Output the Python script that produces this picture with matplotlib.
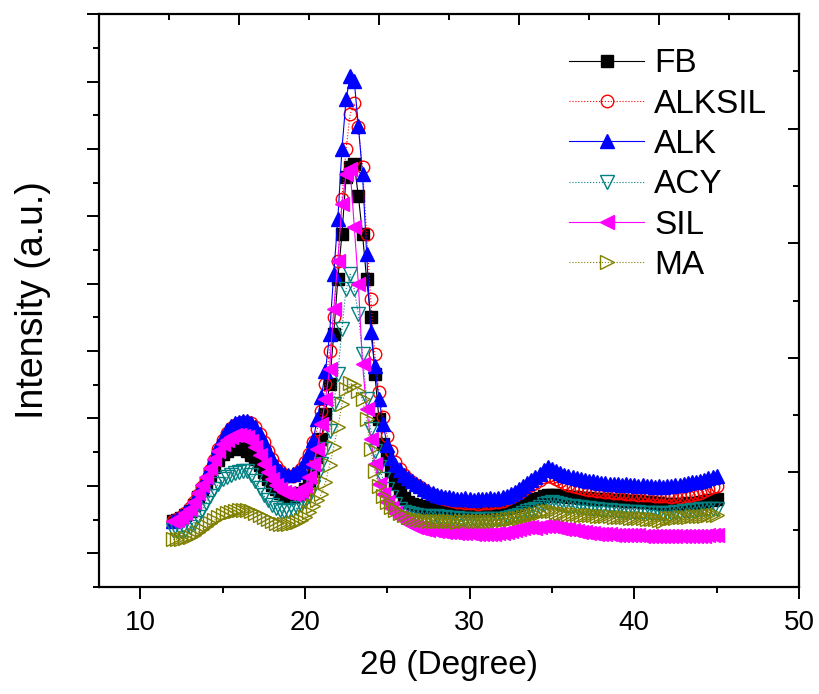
import numpy as np
import matplotlib
matplotlib.use("Agg")
import matplotlib.pyplot as plt
from matplotlib.ticker import MultipleLocator

plt.rcParams['font.family'] = ['Liberation Sans', 'DejaVu Sans']

# 2-theta grid (degrees), 12 -> 45 every 0.25
two_theta = np.arange(12, 45.001, 0.25)

# intensities (a.u.), one row per degree
fb = [32, 33, 35, 38, 42, 48, 56, 63, 70, 78, 86, 93, 99, 102, 104, 105,
      105, 104, 102, 98, 94, 88, 81, 74, 68, 64, 60, 58, 57, 57, 58, 60,
      64, 72, 82, 96, 114, 139, 169, 219, 274, 319, 376, 386, 389, 357, 319, 274,
      236, 179, 134, 109, 94, 82, 70, 62, 55, 51, 49, 48, 47, 46, 45, 45,
      45, 44, 44, 44, 44, 43, 43, 43, 43, 42, 43, 43, 43, 43, 43, 44,
      44, 45, 46, 47, 48, 50, 52, 53, 54, 55, 57, 58, 58, 58, 57, 57,
      56, 56, 56, 55, 55, 55, 54, 54, 54, 54, 53, 53, 53, 53, 52, 52,
      52, 52, 51, 51, 51, 50, 50, 49, 49, 49, 49, 49, 49, 50, 50, 50,
      51, 52, 53, 53, 54]

alksil = [32, 34, 36, 40, 45, 51, 58, 66, 73, 83, 93, 104, 113, 120, 125, 128,
          130, 131, 131, 130, 126, 119, 111, 102, 94, 87, 82, 78, 77, 77, 80, 84,
          91, 99, 111, 124, 142, 169, 202, 236, 292, 354, 404, 439, 450, 426, 386, 319,
          254, 199, 161, 136, 117, 102, 91, 84, 78, 74, 71, 68, 66, 63, 60, 58,
          56, 55, 54, 53, 52, 51, 51, 50, 50, 50, 49, 50, 50, 50, 51, 51,
          52, 54, 56, 58, 60, 63, 66, 68, 70, 73, 76, 77, 76, 74, 72, 70,
          68, 67, 66, 65, 64, 63, 63, 62, 62, 61, 61, 60, 60, 60, 59, 59,
          59, 58, 58, 58, 58, 57, 57, 57, 57, 56, 57, 56, 57, 57, 58, 59,
          60, 62, 64, 66, 67]

alk = [32, 34, 37, 41, 46, 52, 60, 67, 76, 86, 96, 107, 116, 123, 127, 130,
       131, 132, 132, 130, 126, 119, 111, 102, 94, 87, 82, 79, 78, 79, 81, 85,
       92, 101, 113, 134, 156, 182, 219, 279, 334, 404, 454, 477, 472, 427, 379, 299,
       221, 187, 154, 129, 108, 95, 88, 83, 78, 75, 72, 69, 67, 64, 62, 60,
       58, 57, 56, 56, 55, 54, 54, 55, 54, 53, 54, 54, 54, 55, 54, 55,
       56, 57, 59, 61, 64, 67, 70, 73, 76, 79, 83, 86, 84, 82, 80, 78,
       77, 76, 75, 74, 73, 72, 72, 71, 70, 70, 69, 69, 69, 68, 69, 68,
       68, 67, 68, 67, 67, 66, 67, 66, 67, 67, 68, 68, 69, 70, 71, 71,
       72, 73, 75, 76, 77]

acy = [23, 22, 22, 23, 26, 30, 36, 43, 50, 57, 64, 69, 74, 76, 78, 80,
       81, 82, 82, 78, 72, 65, 58, 53, 48, 45, 43, 42, 42, 43, 45, 48,
       52, 57, 66, 77, 89, 104, 122, 149, 179, 224, 264, 279, 264, 239, 199, 154,
       124, 102, 86, 74, 64, 56, 49, 44, 41, 40, 39, 38, 37, 37, 37, 36,
       37, 36, 36, 35, 35, 35, 34, 34, 34, 34, 33, 34, 34, 34, 34, 34,
       34, 35, 36, 37, 38, 40, 42, 43, 44, 46, 49, 50, 51, 50, 49, 48,
       47, 47, 46, 46, 45, 45, 44, 44, 43, 43, 43, 42, 42, 42, 41, 41,
       41, 41, 40, 40, 40, 40, 40, 39, 40, 40, 41, 41, 42, 42, 43, 43,
       44, 44, 44, 44, 44]

sil = [32, 33, 36, 40, 44, 51, 60, 68, 76, 85, 94, 102, 109, 113, 116, 118,
       118, 117, 116, 112, 106, 98, 89, 81, 74, 68, 64, 61, 60, 59, 60, 62,
       66, 76, 89, 104, 129, 154, 184, 244, 292, 349, 379, 384, 326, 269, 189, 144,
       114, 89, 69, 59, 51, 45, 40, 36, 33, 30, 28, 26, 25, 24, 23, 23,
       22, 22, 21, 21, 21, 20, 20, 20, 20, 19, 19, 19, 19, 19, 19, 20,
       20, 21, 22, 23, 24, 25, 26, 26, 25, 26, 27, 27, 27, 26, 25, 24,
       24, 23, 22, 21, 21, 20, 20, 19, 19, 19, 19, 18, 18, 18, 18, 18,
       18, 18, 17, 17, 17, 17, 17, 17, 17, 17, 17, 17, 17, 17, 17, 17,
       17, 17, 18, 18, 18]

ma = [14, 14, 14, 15, 16, 18, 21, 24, 27, 30, 33, 36, 38, 40, 41, 42,
      43, 43, 43, 42, 40, 38, 36, 34, 32, 30, 29, 29, 29, 30, 31, 33,
      36, 41, 47, 53, 59, 71, 88, 106, 126, 149, 164, 170, 168, 162, 154, 134,
      104, 82, 67, 57, 51, 46, 43, 40, 38, 36, 35, 34, 33, 33, 32, 32,
      32, 32, 32, 32, 32, 31, 32, 32, 32, 32, 32, 32, 32, 32, 32, 33,
      33, 34, 34, 35, 35, 36, 37, 38, 39, 40, 42, 42, 42, 41, 40, 40,
      39, 39, 39, 38, 38, 38, 38, 37, 37, 37, 37, 36, 36, 36, 36, 35,
      35, 35, 35, 34, 34, 34, 33, 32, 35, 35, 35, 36, 36, 36, 37, 37,
      37, 37, 38, 38, 38]

labels = ['FB', 'ALKSIL', 'ALK', 'ACY', 'SIL', 'MA']
series = [fb, alksil, alk, acy, sil, ma]
colors = ['black', '#FF0000', '#0000FF', '#008080', '#FF00FF', '#808000']
markers = ['s', 'o', '^', 'v', '<', '>']
filled = [True, False, True, False, True, False]
lstyles = ['-', ':', '-', ':', '-', ':']
msizes = [8.0, 9.0, 10.5, 10.5, 10.5, 10.5]

fig = plt.figure(figsize=(8.2, 6.94), dpi=100)
ax = fig.add_axes([0.1207, 0.1542, 0.8537, 0.8256])

for y, lab, c, m, f, ls, ms in zip(series, labels, colors, markers, filled, lstyles, msizes):
    ax.plot(two_theta, y, color=c, ls=ls, lw=0.8, marker=m, ms=ms,
            mfc=c if f else 'none', mec=c, mew=1.0, label=lab)

ax.set_xlim(7.5, 50)
ax.set_ylim(-33.7, 539.3)
ax.xaxis.set_major_locator(MultipleLocator(10))
ax.xaxis.set_minor_locator(MultipleLocator(5))
ax.yaxis.set_major_locator(MultipleLocator(67.4))
ax.yaxis.set_minor_locator(MultipleLocator(33.7))
ax.tick_params(which='both', direction='out', width=1.4, top=False, right=False)
ax.tick_params(which='major', length=8.3, labelsize=20, pad=8)
ax.tick_params(which='minor', length=4.5)
ax.tick_params(axis='y', labelleft=False)
for s in ax.spines.values():
    s.set_linewidth(1.6)

ax.set_xlabel('2\u03b8 (Degree)', fontsize=24, labelpad=10)
ax.set_ylabel('Intensity (a.u.)', fontsize=27, labelpad=26)

# top / right ticks on their own scale, pointing in
ax2 = fig.add_axes(ax.get_position(), frameon=False)
ax2.patch.set_visible(False)
ax2.set_xlim(0, 10)
ax2.set_ylim(0, 5)
ax2.xaxis.set_major_locator(MultipleLocator(2))
ax2.xaxis.set_minor_locator(MultipleLocator(1))
ax2.yaxis.set_major_locator(MultipleLocator(1))
ax2.yaxis.set_minor_locator(MultipleLocator(0.5))
ax2.tick_params(which='both', direction='in', width=1.4, top=True, right=True,
                bottom=False, left=False, labeltop=False, labelright=False,
                labelbottom=False, labelleft=False)
ax2.tick_params(which='major', length=8)
ax2.tick_params(which='minor', length=4)

ax.legend(loc='upper left', bbox_to_anchor=(0.671, 0.94), frameon=False,
          fontsize=24, handlelength=2.27, handletextpad=0.3, labelspacing=0.28,
          borderpad=0, borderaxespad=0)

fig.savefig('out.png', dpi=100)
